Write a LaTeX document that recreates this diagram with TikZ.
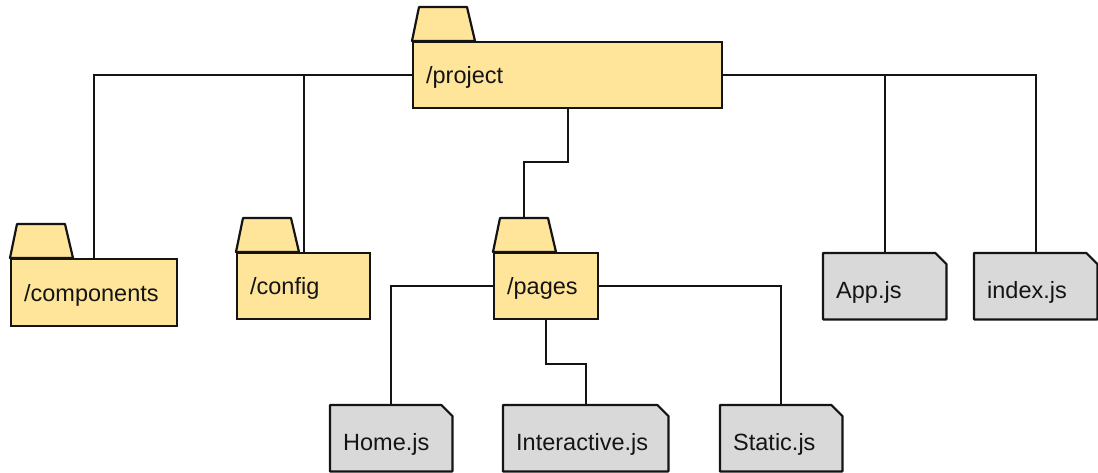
\documentclass[tikz,border=0pt]{standalone}
\usepackage{fontspec}
\setmainfont{Liberation Sans}
\usetikzlibrary{backgrounds,calc}
\definecolor{folderfill}{RGB}{255,229,153}
\definecolor{filefill}{RGB}{217,217,217}
\definecolor{inkc}{RGB}{20,20,20}
\tikzset{
  base/.style={anchor=north west, inner xsep=13pt, inner ysep=0pt, align=left,
    font=\fontsize{23.5}{28}\selectfont, text=inkc, minimum height=66pt},
  folderbody/.style={base, draw=inkc, line width=2.2pt, fill=folderfill, text height=20pt, text depth=3.2pt},
  filebody/.style={base, text height=28pt, text depth=3.2pt},
  tabshape/.style={draw=inkc, line width=2.2pt, fill=folderfill, line join=round},
  fileshape/.style={draw=inkc, line width=2.2pt, fill=filefill, line join=round},
  link/.style={draw=inkc, line width=2pt},
}
\newcommand\drawtab[1]{\draw[tabshape] (#1.north west) -- ([xshift=7pt,yshift=34pt]#1.north west) -- ([xshift=55pt,yshift=34pt]#1.north west) -- ([xshift=63pt]#1.north west) -- cycle;}
\newcommand\drawfile[1]{\draw[fileshape] (#1.north west) -- ([xshift=-11pt]#1.north east) -- ([yshift=-11pt]#1.north east) -- (#1.south east) -- (#1.south west) -- cycle;}
\begin{document}
\begin{tikzpicture}[x=1pt,y=-1pt]
\useasboundingbox (0,0) rectangle (1098,472);
% folders
\node[folderbody, text width=140pt, minimum height=67pt] (comp) at (10,258) {/components};
\node[folderbody, text width=107pt] (conf) at (236,252) {/config};
\node[folderbody, text width=78pt] (pages) at (493,252) {/pages};
\node[folderbody, text width=283pt] (proj) at (412,41) {/project};
% files
\node[filebody, text width=97pt] (app) at (823,253) {App.js};
\node[filebody, text width=97pt] (index) at (974,253) {index.js};
\node[filebody, text width=96pt] (home) at (330,405) {Home.js};
\node[filebody, text width=139pt] (inter) at (503,405) {Interactive.js};
\node[filebody, text width=96pt] (static) at (720,405) {Static.js};
\coordinate (pagestab) at ([xshift=31pt,yshift=34pt]pages.north west);
\begin{pgfonlayer}{background}
  \drawtab{comp}
  \drawtab{conf}
  \drawtab{pages}
  \drawtab{proj}
  \drawfile{app}
  \drawfile{index}
  \drawfile{home}
  \drawfile{inter}
  \drawfile{static}
  % connectors
  \draw[link] (proj.west) -| (comp.north);
  \draw[link] (proj.west) -| (conf.north);
  \draw[link] (proj.east) -| (app.north);
  \draw[link] (proj.east) -| (index.north);
  \draw[link] (proj.south) -- ([yshift=-53pt]proj.south) -| (pagestab);
  \draw[link] (pages.west) -| (home.north);
  \draw[link] (pages.east) -| (static.north);
  \draw[link] (pages.south) -- ([yshift=-44pt]pages.south) -| (inter.north);
\end{pgfonlayer}
\end{tikzpicture}
\end{document}
